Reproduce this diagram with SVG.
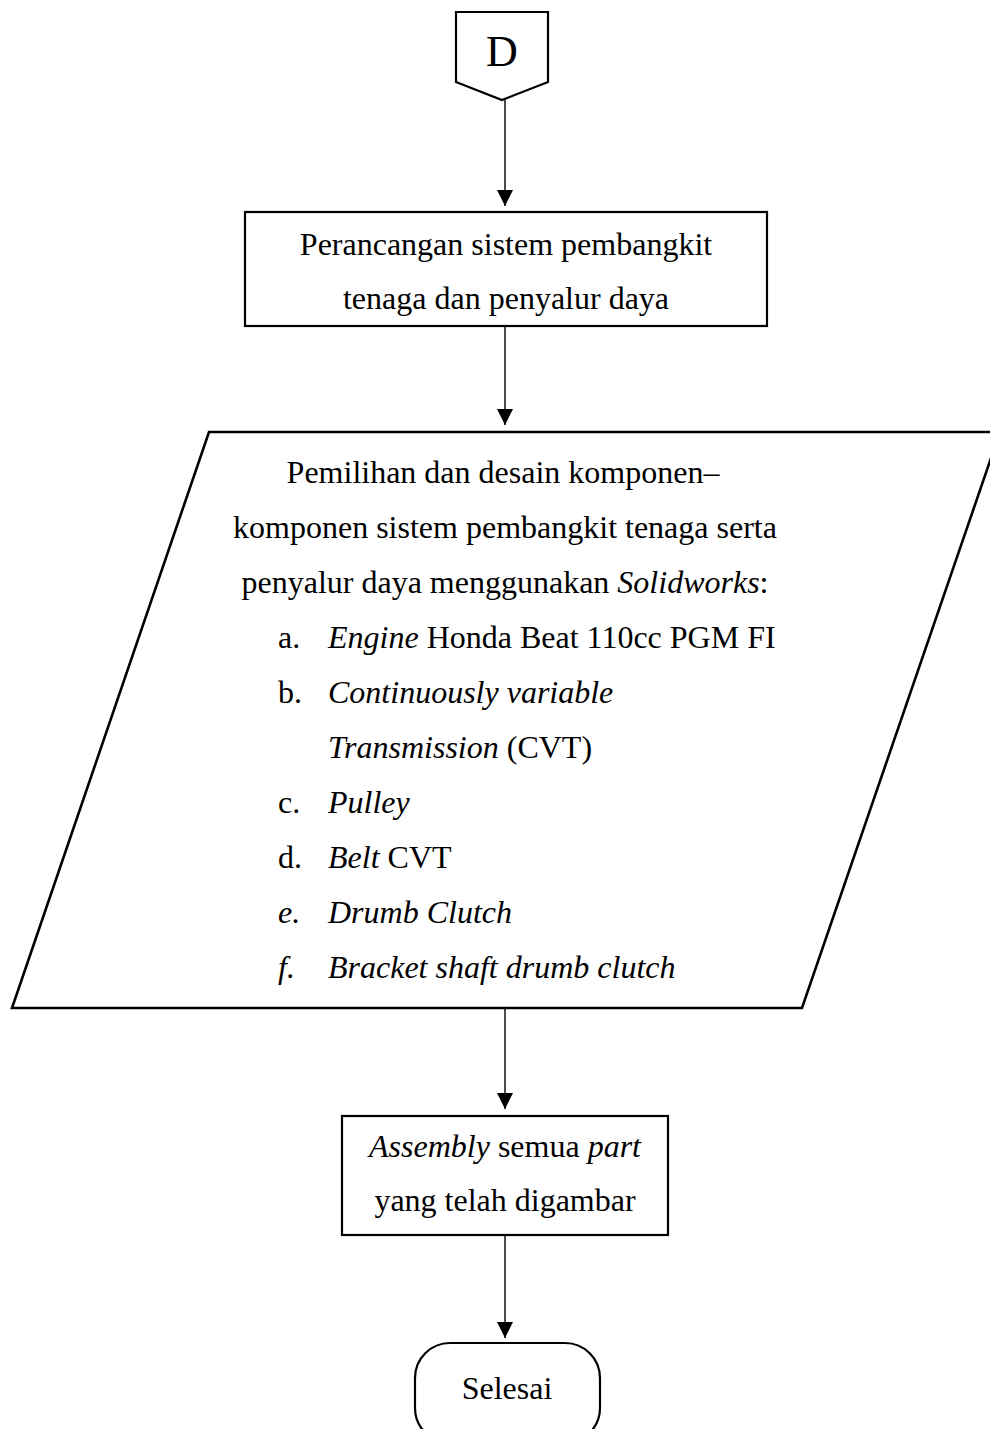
<svg xmlns="http://www.w3.org/2000/svg" width="990" height="1429" viewBox="0 0 990 1429">
<defs>
<marker id="ah" markerUnits="userSpaceOnUse" markerWidth="16" markerHeight="18" refX="16" refY="8" orient="auto" viewBox="0 0 16 16">
<path d="M0,0 L16,8 L0,16 Z" fill="#000"/>
</marker>
</defs>
<style>
.shape{fill:#fff;stroke:#000;stroke-width:2.2}
.t{font-family:"Liberation Serif","Times New Roman",serif;font-size:32px;fill:#000}
.c{text-anchor:middle}
.i{font-style:italic}
.conn{stroke:#000;stroke-width:1.4;fill:none;marker-end:url(#ah)}
</style>
<rect width="990" height="1429" fill="#fff"/>
<g id="connectors">
<line class="conn" x1="505" y1="100" x2="505" y2="206"/>
<line class="conn" x1="505" y1="327" x2="505" y2="425"/>
<line class="conn" x1="505" y1="1009" x2="505" y2="1109"/>
<line class="conn" x1="505" y1="1236" x2="505" y2="1338"/>
</g>
<g id="node-d">
<path class="shape" d="M456,12 L548,12 L548,82 L502,100 L456,82 Z"/>
<text class="t c" x="502" y="66" style="font-size:44px">D</text>
</g>
<g id="node-perancangan">
<rect class="shape" x="245" y="212" width="522" height="114"/>
<text class="t c" x="506" y="255">Perancangan sistem pembangkit</text>
<text class="t c" x="506" y="309">tenaga dan penyalur daya</text>
</g>
<g id="node-pemilihan">
<path class="shape" d="M209,432 L1000,432 L802,1008 L12,1008 Z" style="stroke-width:2.6"/>
<text class="t c" x="503" y="483">Pemilihan dan desain komponen–</text>
<text class="t c" x="505" y="538">komponen sistem pembangkit tenaga serta</text>
<text class="t c" x="505" y="593">penyalur daya menggunakan <tspan class="i">Solidworks</tspan>:</text>
<text class="t" x="278" y="648">a.</text>
<text class="t" x="328" y="648"><tspan class="i">Engine</tspan> Honda Beat 110cc PGM FI</text>
<text class="t" x="278" y="703">b.</text>
<text class="t i" x="328" y="703">Continuously variable</text>
<text class="t" x="328" y="758"><tspan class="i">Transmission</tspan> (CVT)</text>
<text class="t" x="278" y="813">c.</text>
<text class="t i" x="328" y="813">Pulley</text>
<text class="t" x="278" y="868">d.</text>
<text class="t" x="328" y="868"><tspan class="i">Belt</tspan> CVT</text>
<text class="t i" x="278" y="923">e.</text>
<text class="t i" x="328" y="923">Drumb Clutch</text>
<text class="t i" x="278" y="978">f.</text>
<text class="t i" x="328" y="978">Bracket shaft drumb clutch</text>
</g>
<g id="node-assembly">
<rect class="shape" x="342" y="1116" width="326" height="119"/>
<text class="t c" x="505" y="1157"><tspan class="i">Assembly</tspan> semua <tspan class="i">part</tspan></text>
<text class="t c" x="505" y="1211">yang telah digambar</text>
</g>
<g id="node-selesai">
<rect class="shape" x="415" y="1343" width="185" height="100" rx="35" ry="35"/>
<text class="t c" x="507" y="1399">Selesai</text>
</g>
</svg>
